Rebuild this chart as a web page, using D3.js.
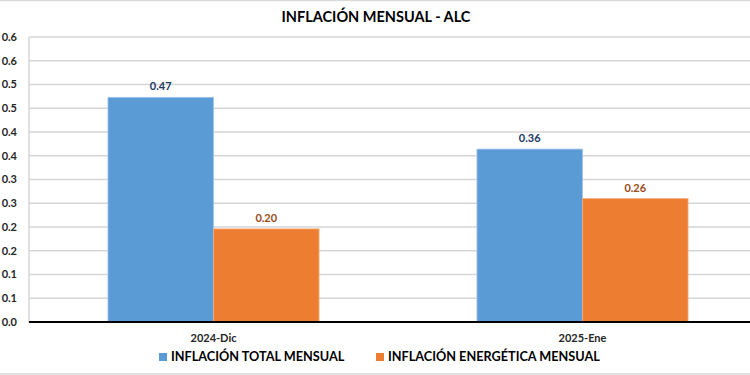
<!DOCTYPE html>
<html>
<head>
<meta charset="utf-8">
<script src="https://cdn.jsdelivr.net/npm/d3@7"></script>
<style>
  html, body { margin: 0; padding: 0; background: #fff; }
  svg { display: block; font-family: Lato, "Open Sans", sans-serif; }
</style>
</head>
<body>
<div id="chart"></div>
<script>
// Chart data
const categories = ['2024-Dic', '2025-Ene'];
const seriesNames = ['INFLACIÓN TOTAL MENSUAL', 'INFLACIÓN ENERGÉTICA MENSUAL'];
const totalValues = [0.473, 0.364];
const energyValues = [0.196, 0.26];
const yTickValues = [0, 0.05, 0.1, 0.15, 0.2, 0.25, 0.3, 0.35, 0.4, 0.45, 0.5, 0.55, 0.6];
const yTickLabels = ['0.0', '0.1', '0.1', '0.2', '0.2', '0.3', '0.3', '0.4', '0.4', '0.5', '0.5', '0.6', '0.6'];

const width = 750, height = 375;
const colors = ['#5b9bd5', '#ed7d31'];
const labelColors = ['#203864', '#9c4a17'];

const svg = d3.select('#chart')
    .append('svg')
    .attr('width', width)
    .attr('height', height);

// light frame lines top and bottom
svg.append('line').attr('x1', 0).attr('x2', width).attr('y1', 0.5).attr('y2', 0.5)
    .attr('stroke', '#d9d9d9').attr('stroke-width', 1.5);
svg.append('line').attr('x1', 0).attr('x2', width).attr('y1', 374).attr('y2', 374)
    .attr('stroke', '#d9d9d9').attr('stroke-width', 1.5);

// plot area (runs past the right edge, chart is cropped)
const plot = { left: 29, right: 767, top: 37, bottom: 322 };

const y = d3.scaleLinear().domain([0, 0.6]).range([plot.bottom, plot.top]);
const x0 = d3.scaleBand().domain(categories).range([plot.left, plot.right]);
const x1 = d3.scaleBand().domain([0, 1]).range([0, x0.bandwidth() * 0.572]);

// gridlines
svg.append('g')
    .selectAll('line')
    .data(yTickValues.slice(1))
    .join('line')
    .attr('x1', plot.left)
    .attr('x2', width)
    .attr('y1', d => y(d))
    .attr('y2', d => y(d))
    .attr('stroke', '#d6d6d6')
    .attr('stroke-width', 1.5);

// y axis line
svg.append('line')
    .attr('x1', plot.left).attr('x2', plot.left)
    .attr('y1', plot.top).attr('y2', plot.bottom)
    .attr('stroke', '#d6d6d6').attr('stroke-width', 1.5);

// y tick labels
svg.append('g')
    .selectAll('text')
    .data(yTickValues)
    .join('text')
    .attr('x', 17)
    .attr('y', d => y(d))
    .attr('dy', '0.35em')
    .attr('text-anchor', 'end')
    .attr('font-size', 11)
    .attr('font-weight', 'bold')
    .attr('fill', '#262626')
    .text((d, i) => yTickLabels[i]);

// bars
const rows = categories.map((c, i) => ({ cat: c, vals: [totalValues[i], energyValues[i]] }));
const groupOffset = (x0.bandwidth() - x1.range()[1]) / 2;

rows.forEach(r => {
    r.vals.forEach((v, s) => {
        const bx = x0(r.cat) + groupOffset + x1(s);
        svg.append('rect')
            .attr('x', bx)
            .attr('y', y(v))
            .attr('width', x1.bandwidth())
            .attr('height', y(0) - y(v))
            .attr('fill', colors[s])
            .attr('stroke', s === 0 ? '#9fc4e8' : '#f4b183')
            .attr('stroke-width', 0.8);
        svg.append('text')
            .attr('x', bx + x1.bandwidth() / 2)
            .attr('y', y(v) - 7)
            .attr('text-anchor', 'middle')
            .attr('font-size', 11)
            .attr('font-weight', 'bold')
            .attr('fill', labelColors[s])
            .text(d3.format('.2f')(v));
    });
});

// baseline
svg.append('line')
    .attr('x1', plot.left).attr('x2', width)
    .attr('y1', y(0)).attr('y2', y(0))
    .attr('stroke', '#000').attr('stroke-width', 2);

// category labels
svg.append('g')
    .selectAll('text')
    .data(categories)
    .join('text')
    .attr('x', d => x0(d) + x0.bandwidth() / 2)
    .attr('y', 338)
    .attr('dy', '0.35em')
    .attr('text-anchor', 'middle')
    .attr('font-size', 11)
    .attr('font-weight', 'bold')
    .attr('fill', '#262626')
    .text(d => d);

// title
svg.append('text')
    .attr('x', 376)
    .attr('y', 17)
    .attr('dy', '0.35em')
    .attr('text-anchor', 'middle')
    .attr('font-size', 14.5)
    .attr('font-weight', 'bold')
    .attr('fill', '#000')
    .text('INFLACIÓN MENSUAL - ALC');

// legend
const legendX = [159, 376];
seriesNames.forEach((name, i) => {
    const g = svg.append('g').attr('transform', `translate(${legendX[i]},357)`);
    g.append('rect')
        .attr('x', 0).attr('y', -4)
        .attr('width', 8).attr('height', 8)
        .attr('fill', colors[i]);
    g.append('text')
        .attr('x', 12)
        .attr('y', 0)
        .attr('dy', '0.35em')
        .attr('font-size', 12.7)
        .attr('font-weight', 'bold')
        .attr('fill', '#000')
        .text(name);
});
</script>
</body>
</html>
